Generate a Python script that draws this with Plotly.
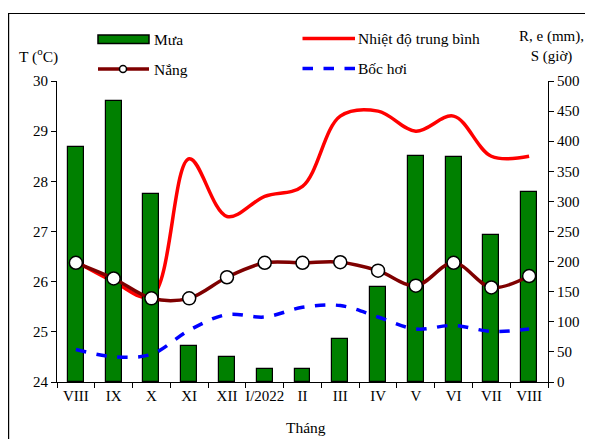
import plotly.graph_objects as go

months = ["VIII", "IX", "X", "XI", "XII", "I/2022", "II", "III", "IV", "V", "VI", "VII", "VIII"]
rain = [391, 467, 312, 60, 42, 21, 21, 71, 157, 375, 374, 245, 315]
temp = [26.4, 26.0, 25.7, 28.45, 27.3, 27.7, 27.9, 29.3, 29.4, 29.0, 29.3, 28.5, 28.5]
sun = [198, 172, 139, 139, 174, 198, 198, 199, 185, 160, 198, 157, 176]
evap = [54, 42, 46, 86, 112, 108, 124, 127, 108, 88, 94, 84, 88]

x = list(range(len(months)))
FONT = "Liberation Serif, Times New Roman, serif"

GREEN, RED, BROWN, BLUE = "#008000", "#ff0000", "#7f0000", "#0000ff"

fig = go.Figure()
fig.add_trace(go.Bar(x=x, y=rain, name="Mưa", yaxis="y2", width=0.42,
                     marker=dict(color=GREEN, line=dict(color="black", width=1.2))))
fig.add_trace(go.Scatter(x=x, y=temp, name="Nhiệt độ trung bình", yaxis="y", mode="lines",
                         line=dict(color=RED, width=3.5, shape="spline", smoothing=1)))
fig.add_trace(go.Scatter(x=x, y=sun, name="Nắng", yaxis="y2", mode="lines+markers",
                         line=dict(color=BROWN, width=3.5, shape="spline", smoothing=1),
                         marker=dict(symbol="circle", size=13, color="white",
                                     line=dict(color="black", width=1.5))))
fig.add_trace(go.Scatter(x=x, y=evap, name="Bốc hơi", yaxis="y2", mode="lines",
                         line=dict(color=BLUE, width=3.5, dash="dash", shape="spline", smoothing=1)))

OFF = 8  # page body margin
W, H = 585, 431
L, R, T, B = 49, 45, 73, 57
pw, ph = W - L - R, H - T - B

def px(xp):
    return (xp - OFF - L) / pw

def py(yp):
    return (H - B - (yp - OFF)) / ph

def txt(s, xp, yp, anchor="center", size=15.5):
    return dict(text=s, x=px(xp), y=py(yp), xref="paper", yref="paper", showarrow=False,
                xanchor=anchor, yanchor="middle",
                font=dict(family=FONT, size=size, color="black"))

def pline(x0, x1, yp, color, dash="solid", width=3.5):
    return dict(type="line", xref="paper", yref="paper", x0=px(x0), x1=px(x1),
                y0=py(yp), y1=py(yp), line=dict(color=color, width=width, dash=dash))

shapes = [
    dict(type="rect", xref="paper", yref="paper", x0=px(8.6), x1=px(640),
         y0=py(480), y1=py(13.5), line=dict(color="black", width=1.2),
         fillcolor="rgba(0,0,0,0)", layer="below"),
    # legend keys
    dict(type="rect", xref="paper", yref="paper", x0=px(98), x1=px(149),
         y0=py(43.5), y1=py(35), line=dict(color="black", width=1.5), fillcolor=GREEN),
    pline(98, 149, 69, BROWN),
    dict(type="circle", xref="paper", yref="paper", x0=px(119.5), x1=px(126.5),
         y0=py(72.5), y1=py(65.5), line=dict(color="black", width=1.5), fillcolor="white"),
    pline(302.5, 355, 38.5, RED),
    pline(302.5, 355, 68.5, BLUE, dash="dash"),
]

fig.update_layout(
    width=W, height=H,
    margin=dict(l=L, r=R, t=T, b=B, autoexpand=False),
    paper_bgcolor="white", plot_bgcolor="white",
    font=dict(family=FONT, size=15, color="black"),
    showlegend=False,
    bargap=0,
    xaxis=dict(range=[-0.5, 12.5], tickvals=x, ticktext=months, ticks="", showgrid=False,
               showline=True, linecolor="black", linewidth=1, zeroline=False,
               tickfont=dict(family=FONT, size=15, color="black"),
               minor=dict(tickvals=[i - 0.5 for i in range(14)], ticks="outside", ticklen=5,
                          tickcolor="black", showgrid=False)),
    yaxis=dict(range=[24, 30], dtick=1, ticks="outside", ticklen=5, tickcolor="black",
               showgrid=False, showline=True, linecolor="black", linewidth=1, zeroline=False,
               tickfont=dict(family=FONT, size=15, color="black")),
    yaxis2=dict(range=[0, 500], dtick=50, overlaying="y", side="right", ticks="outside",
                ticklen=5, tickcolor="black", showgrid=False, showline=True, linecolor="black",
                linewidth=1, zeroline=False, tickfont=dict(family=FONT, size=15, color="black")),
    shapes=shapes,
    annotations=[
        txt("Mưa", 152, 39.5, "left"),
        txt("Nắng", 152, 69.5, "left"),
        txt("Nhiệt độ trung bình", 356, 39, "left"),
        txt("Bốc hơi", 356, 69, "left"),
        txt("T (<sup>o</sup>C)", 38, 55),
        txt("R, e (mm),<br>S (giờ)", 551, 46, size=15),
        txt("Tháng", 306, 428),
    ],
)

fig.write_html("out.html")
